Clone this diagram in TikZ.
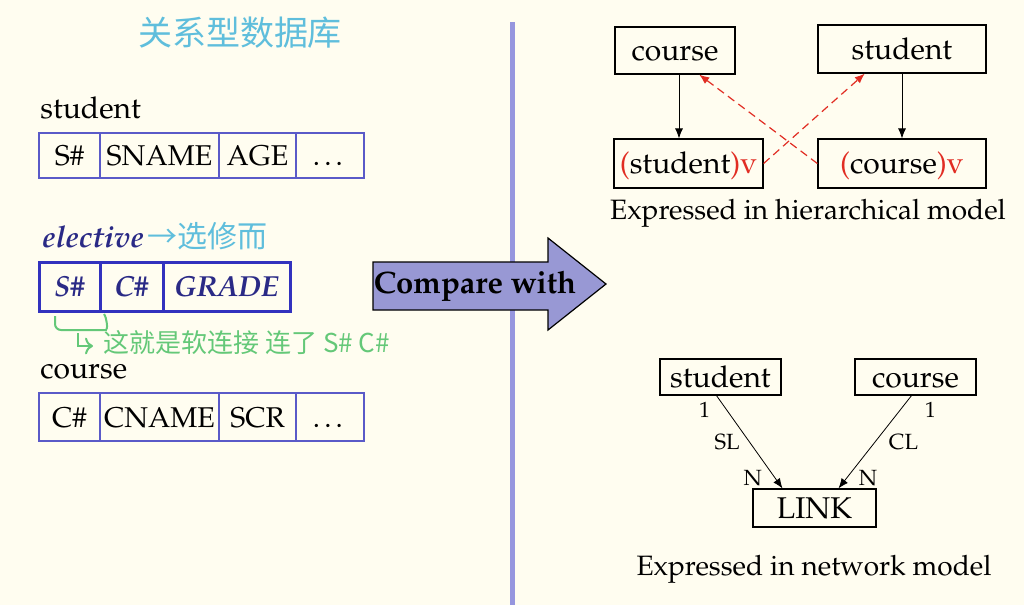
\documentclass[tikz,border=0pt]{standalone}
\usepackage[T1]{fontenc}
\usepackage{mathpazo}
\usetikzlibrary{positioning,calc,arrows.meta}
\definecolor{paper}{RGB}{255,253,240}
\definecolor{tabline}{RGB}{90,90,200}
\definecolor{elline}{RGB}{50,50,190}
\definecolor{eltext}{RGB}{42,42,134}
\definecolor{inkblue}{RGB}{95,190,220}
\definecolor{inkgreen}{RGB}{100,200,120}
\definecolor{divider}{RGB}{150,150,222}
\definecolor{cmpfill}{RGB}{152,152,212}
\definecolor{hred}{RGB}{225,45,35}
\font\cjkbig="Noto Sans CJK SC" at 17pt
\font\cjkmid="Noto Sans CJK SC" at 15pt
\font\cjksmall="Noto Sans CJK SC" at 13pt

\begin{document}
\begin{tikzpicture}[x=0.5pt,y=-0.5pt,node distance=0pt,
  txt/.style={font=\fontsize{15}{18}\selectfont,inner sep=0pt},
  captxt/.style={font=\fontsize{14}{17}\selectfont,inner sep=0pt},
  cell/.style={draw=tabline,line width=0.75pt,outer sep=0pt,minimum height=22.5pt,inner sep=1pt,text height=12pt,text depth=2pt,font=\fontsize{14.3}{17}\selectfont},
  ecell/.style={draw=elline,line width=1.5pt,outer sep=0pt,minimum height=24.5pt,inner sep=1pt,text height=12pt,text depth=2pt,text=eltext,font=\fontsize{14.5}{17}\selectfont\bfseries\itshape},
  box/.style={draw,line width=0.6pt,inner sep=2pt,text height=12pt,text depth=2pt,font=\fontsize{15}{18}\selectfont},
  lab/.style={font=\fontsize{11}{13}\selectfont,inner sep=2pt},
  tip/.style={-{Latex[length=5pt,width=4pt]}},
  redlink/.style={tip,hred,line width=0.6pt,dash pattern=on 4pt off 2.5pt}]
\fill[paper] (0,0) rectangle (1024,605);

% relational side
\node[text=inkblue,font=\cjkbig](ttl) at (240,33) {关系型数据库};
\node[txt,anchor=base west](lst) at (40,118) {student};
\node[cell,minimum width=30.5pt,anchor=west](s1) at (39,155.5) {S\#};
\node[cell,minimum width=59.5pt](s2)[right=of s1] {SNAME};
\node[cell,minimum width=38.5pt](s3)[right=of s2] {AGE};
\node[cell,minimum width=34pt](s4)[right=of s3] {\ldots};

\node[txt,anchor=base west,text=eltext,font=\fontsize{15}{18}\selectfont\bfseries\itshape](lel) at (42,247) {elective};
\node[anchor=west,inner sep=0pt,text=inkblue,font=\cjkmid](nel) at (147,236) {→选修而};
\node[ecell,minimum width=30.5pt,anchor=west](e1) at (39,286.5) {S\#};
\node[ecell,minimum width=31.5pt](e2)[right=of e1] {C\#};
\node[ecell,minimum width=63.5pt](e3)[right=of e2] {GRADE};

\node[anchor=west,inner sep=0pt,text=inkgreen,font=\cjksmall](note) at (103,343) {这就是软连接\ 连了 S\# C\#};
\draw[inkgreen,line width=1pt,rounded corners=3pt] (55,316) -- (55,330) -- (100,330) .. controls (108,330) and (107,318) .. (104,314);
\draw[inkgreen,line width=1pt,-{To[length=4pt]}] (78,333) |- ([xshift=-5pt,yshift=-1.5pt]note.west);

\node[txt,anchor=base west](lco) at (40,378) {course};
\node[cell,minimum width=30.5pt,minimum height=24pt,anchor=west](c1) at (39,417) {C\#};
\node[cell,minimum width=59.5pt,minimum height=24pt](c2)[right=of c1] {CNAME};
\node[cell,minimum width=38.5pt,minimum height=24pt](c3)[right=of c2] {SCR};
\node[cell,minimum width=34pt,minimum height=24pt](c4)[right=of c3] {\ldots};

% divider and arrow
\draw[divider,line width=2.5pt] (512,22) -- (512,605);
\filldraw[fill=cmpfill,draw=black,line width=0.6pt] (373,262) -- (548,262) -- (548,238) -- (606,284) -- (548,330) -- (548,310) -- (373,310) -- cycle;
\node[inner sep=0pt,font=\fontsize{15.5}{18}\selectfont\bfseries](cmp) at (475,286) {Compare with};

% hierarchical model
\node[box,minimum width=60pt,minimum height=23.5pt](hc) at (675,50.5) {course};
\node[box,minimum width=84pt,minimum height=24pt](hs) at (902,49) {student};
\node[box,minimum width=74.5pt,minimum height=24.5pt](hsv) at (688.5,163.5) {\textcolor{hred}{(}student\textcolor{hred}{)v}};
\node[box,minimum width=84pt,minimum height=24.5pt](hcv) at (902,163.5) {\textcolor{hred}{(}course\textcolor{hred}{)v}};
\draw[tip] ([xshift=2pt]hc.south) -- ([xshift=2pt]hc.south |- hsv.north);
\draw[tip] (hs.south) -- (hcv.north);
\draw[redlink] (hsv.east) -- ($(hs.south west)!0.28!(hs.south east)$);
\draw[redlink] (hcv.west) -- ($(hc.south west)!0.7!(hc.south east)$);
\node[captxt](hcap) at (808,213) {Expressed in hierarchical model};

% network model
\node[box,minimum width=60.5pt,minimum height=18pt](nst) at (720.5,377) {student};
\node[box,minimum width=60.5pt,minimum height=18pt](nco) at (915.5,377) {course};
\node[box,minimum width=61.5pt,minimum height=19pt](lnk) at (814.5,508) {LINK};
\draw[tip] ([xshift=-2pt]nst.south) -- node[lab,pos=0.15,left=6pt]{1} node[lab,midway,left=2.75pt]{SL} node[lab,pos=0.89,left=4.5pt]{N} ([xshift=-16pt]lnk.north);
\draw[tip] ([xshift=-2pt]nco.south) -- node[lab,pos=0.15,right=10pt]{1} node[lab,midway,right=4.75pt]{CL} node[lab,pos=0.89,right=4pt]{N} ([xshift=12pt]lnk.north);
\node[captxt](ncap) at (814,569) {Expressed in network model};
\end{tikzpicture}
\end{document}
